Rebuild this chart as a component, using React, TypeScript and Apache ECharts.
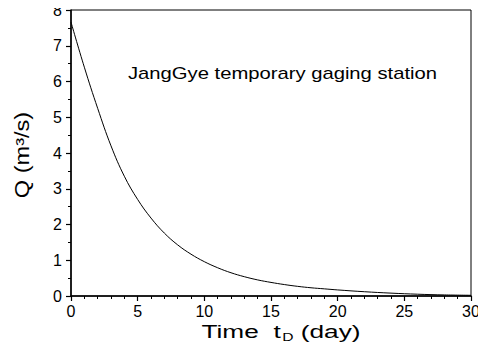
import React, { useEffect, useRef } from "react";
import * as echarts from "echarts";

const timeDays = [0, 1, 2, 3, 4, 5, 6, 7, 8, 9, 10, 11, 12, 13, 14, 15, 16, 17, 18, 19, 20, 22, 24, 26, 28, 30];
const discharge = [7.66, 6.4, 5.25, 4.2, 3.35, 2.7, 2.18, 1.76, 1.43, 1.17, 0.96, 0.79, 0.65, 0.54, 0.45, 0.38, 0.32, 0.27, 0.23, 0.2, 0.17, 0.12, 0.08, 0.05, 0.03, 0.02];
const xTicks = { min: 0, max: 30, interval: 5 };
const yTicks = { min: 0, max: 8, interval: 1 };
const annotation = "JangGye temporary gaging station";

const FONT = "'Liberation Sans', Arial, sans-serif";

export default function App() {
  const ref = useRef<HTMLDivElement>(null);
  useEffect(() => {
    if (!ref.current) return;
    const chart = echarts.init(ref.current, undefined, { renderer: "svg" });
    const data = timeDays.map((t, i) => [t, discharge[i]]);
    chart.setOption({
      animation: false,
      backgroundColor: "#fff",
      grid: { left: 71, right: 15, top: 10, bottom: 57, show: true, borderColor: "#000", borderWidth: 1 },
      xAxis: {
        type: "value",
        min: xTicks.min,
        max: xTicks.max,
        interval: xTicks.interval,
        axisLine: { show: true, lineStyle: { color: "#000", width: 1.5 } },
        axisTick: { show: true, length: 5, lineStyle: { color: "#000", width: 1.2 } },
        minorTick: { show: true, splitNumber: 5, length: 3, lineStyle: { color: "#000", width: 1 } },
        splitLine: { show: false },
        axisLabel: { color: "#000", fontSize: 16, fontFamily: FONT, margin: 7 },
      },
      yAxis: {
        type: "value",
        min: yTicks.min,
        max: yTicks.max,
        interval: yTicks.interval,
        axisLine: { show: true, lineStyle: { color: "#000", width: 1.5 } },
        axisTick: { show: true, length: 5, lineStyle: { color: "#000", width: 1.2 } },
        minorTick: { show: true, splitNumber: 2, length: 3, lineStyle: { color: "#000", width: 1 } },
        splitLine: { show: false },
        axisLabel: { color: "#000", fontSize: 16, fontFamily: FONT, margin: 9 },
      },
      graphic: [
        {
          type: "text",
          x: 128,
          y: 73,
          scaleX: 1.19,
          style: { text: annotation, fontSize: 17, fontFamily: FONT, fill: "#000", verticalAlign: "middle" },
        },
        {
          type: "text",
          x: 22,
          y: 155,
          rotation: Math.PI / 2,
          scaleX: 1.18,
          style: {
            text: "Q (m³/s)",
            fontSize: 20,
            fontFamily: FONT,
            fill: "#000",
            align: "center",
            verticalAlign: "middle",
          },
        },
        {
          type: "text",
          x: 281,
          y: 331,
          scaleX: 1.42,
          style: {
            text: "{a|Time  t}{s|D}{a| (day)}",
            align: "center",
            verticalAlign: "middle",
            rich: {
              a: { fontSize: 18.5, fontFamily: FONT, color: "#000" },
              s: { fontSize: 11, fontFamily: FONT, color: "#000", padding: [13, 0, 0, 1] },
            },
          },
        },
      ],
      series: [
        {
          type: "line",
          data,
          smooth: 0.4,
          showSymbol: false,
          lineStyle: { color: "#000", width: 1 },
        },
      ],
    });
    return () => chart.dispose();
  }, []);
  return <div ref={ref} style={{ width: 486, height: 353, margin: -8 }} />;
}
